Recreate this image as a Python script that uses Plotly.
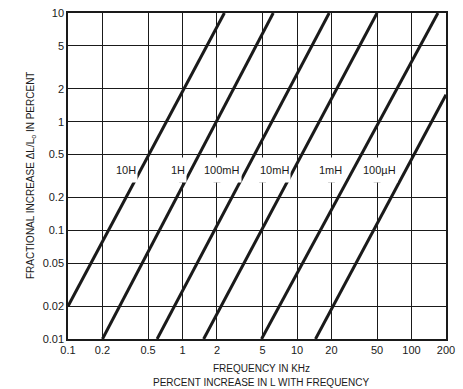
import numpy as np
import plotly.graph_objects as go

# ---- data ----
inductances = ["10H", "1H", "100mH", "10mH", "1mH", "100\u00b5H"]
# each line: (freq kHz, % increase) at its two ends
start_f = [0.1, 0.2, 0.6, 1.53, 4.9, 14.5]
start_y = [0.02, 0.01, 0.01, 0.01, 0.01, 0.01]
end_f = [2.32, 6.2, 19.1, 50.0, 170.0, 200.0]
end_y = [10.0, 10.0, 10.0, 10.0, 10.0, 1.77]

label_f = [0.32, 0.92, 2.2, 6.3, 19.5, 53.0]
label_y = 0.36
break_f = [None, 1, 2, 5, 20, 50]   # gridline under each label (T mark)
break_y = 0.28

x_ticks = [0.1, 0.2, 0.5, 1, 2, 5, 10, 20, 50, 100, 200]
x_ticktext = ["0.1", "0.2", "0.5", "1", "2", "5", "10", "20", "50", "100", "200"]
y_ticks = [0.01, 0.02, 0.05, 0.1, 0.2, 0.5, 1, 2, 5, 10]
y_ticktext = ["0.01", "0.02", "0.05", "0.1", "0.2", "0.5", "1", "2", "5", "10"]

FONT = "Liberation Sans, Arial, sans-serif"
INK = "#1a1a1a"

fig = go.Figure()
for i, name in enumerate(inductances):
    fig.add_trace(go.Scatter(
        x=[start_f[i], end_f[i]], y=[start_y[i], end_y[i]],
        mode="lines", line=dict(color=INK, width=3), name=name,
        showlegend=False, hoverinfo="skip"))

annotations = []
for i, name in enumerate(inductances):
    annotations.append(dict(
        x=np.log10(label_f[i]), y=np.log10(label_y), xref="x", yref="y",
        text=name, showarrow=False, bgcolor="white", height=22,
        font=dict(family=FONT, size=11, color=INK)))

# small T marks where the gridline resumes below a label
for bf in break_f:
    if bf is None:
        continue
    fig.add_trace(go.Scatter(
        x=[bf / 10**0.03, bf * 10**0.03], y=[break_y, break_y],
        mode="lines", line=dict(color=INK, width=1.2),
        showlegend=False, hoverinfo="skip"))

annotations += [
    dict(xref="paper", yref="paper", x=0, y=0.5, xshift=-45,
         text="FRACTIONAL INCREASE \u0394L/L<sub>o</sub> IN PERCENT",
         textangle=-90, showarrow=False,
         font=dict(family=FONT, size=10, color=INK)),
    dict(xref="paper", yref="paper", x=0.5, y=0, xshift=4, yshift=-29,
         text="FREQUENCY IN KHz", showarrow=False, yanchor="middle",
         font=dict(family=FONT, size=10, color=INK)),
    dict(xref="paper", yref="paper", x=0.5, y=0, xshift=4, yshift=-43,
         text="PERCENT INCREASE IN L WITH FREQUENCY", showarrow=False,
         yanchor="middle", font=dict(family=FONT, size=10, color=INK)),
]

fig.update_layout(
    width=463, height=389,
    margin=dict(l=68, r=17, t=7, b=50),
    paper_bgcolor="white", plot_bgcolor="white",
    annotations=annotations,
    font=dict(family=FONT, size=11, color=INK),
)
fig.update_xaxes(
    type="log", range=[np.log10(0.1), np.log10(200)],
    tickvals=x_ticks, ticktext=x_ticktext,
    showgrid=True, gridcolor=INK, gridwidth=1.2,
    showline=True, linecolor=INK, linewidth=1.5, mirror=True,
    ticks="", zeroline=False, tickfont=dict(size=11))
fig.update_yaxes(
    type="log", range=[np.log10(0.01), np.log10(10)],
    tickvals=y_ticks, ticktext=y_ticktext,
    showgrid=True, gridcolor=INK, gridwidth=1.2,
    showline=True, linecolor=INK, linewidth=1.5, mirror=True,
    ticks="", zeroline=False, tickfont=dict(size=11))

fig.write_html(
    "out.html",
    config={"displayModeBar": False},
    post_script="document.body.style.margin='0';"
                "document.body.style.overflow='hidden';")
